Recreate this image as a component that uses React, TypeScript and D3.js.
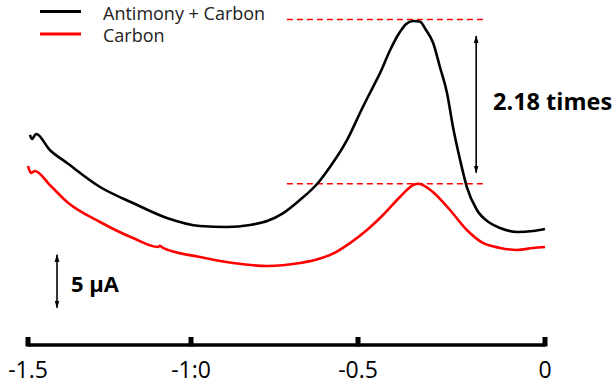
import React from "react";
import * as d3 from "d3";

const W = 614;
const H = 387;

// Potential (V) tick values and labels (as printed)
const tickValues = [-1.5, -1.0, -0.5, 0];
const tickLabels = ["-1.5", "-1:0", "-0.5", "0"];

// Antimony + Carbon (potential V, current µA, relative)
const blackX = [-1.494, -1.488, -1.475, -1.433, -1.38, -1.279, -1.178, -1.074, -0.973, -0.892, -0.823, -0.77, -0.725, -0.674, -0.62, -0.584, -0.533, -0.487, -0.46, -0.441, -0.414, -0.388, -0.372, -0.353, -0.335, -0.318, -0.299, -0.281, -0.262, -0.246, -0.227, -0.209, -0.182, -0.147, -0.12, -0.075, -0.032, 0];
const blackY = [18.4, 18.02, 18.49, 16.98, 15.75, 13.49, 11.98, 10.57, 9.81, 9.72, 9.91, 10.3, 11.0, 12.26, 13.87, 15.38, 17.92, 21.04, 22.92, 24.25, 26.42, 28.11, 28.85, 29.15, 29.1, 28.3, 27.08, 24.81, 22.36, 19.15, 16.04, 13.49, 11.32, 10.09, 9.62, 9.25, 9.34, 9.53];

// Carbon
const redX = [-1.5, -1.491, -1.479, -1.433, -1.38, -1.279, -1.178, -1.101, -1.095, -1.086, -0.973, -0.874, -0.772, -0.674, -0.629, -0.575, -0.524, -0.476, -0.433, -0.388, -0.365, -0.35, -0.338, -0.325, -0.299, -0.254, -0.209, -0.166, -0.12, -0.075, -0.032, 0];
const redY = [15.47, 14.81, 15.0, 13.68, 12.08, 10.19, 8.68, 7.83, 7.95, 7.74, 6.89, 6.32, 6.04, 6.32, 6.6, 7.2, 8.2, 9.43, 10.85, 12.55, 13.35, 13.72, 13.8, 13.65, 13.0, 11.32, 9.43, 8.21, 7.74, 7.55, 7.74, 7.83];

const seriesNames = ["Antimony + Carbon", "Carbon"];
const seriesColors = ["#000000", "#ff0000"];
const ratioLabel = "2.18 times";
const scaleBarValue = 5;
const scaleBarLabel = "5 µA";

const FONT = "'Open Sans', 'Noto Sans', sans-serif";

export default function App() {
  const x = d3.scaleLinear().domain([-1.5, -1.0, -0.5, 0]).range([28, 191, 358, 545]);
  const y = d3.scaleLinear().domain([0, 30]).range([330, 12]);

  const line = d3
    .line<[number, number]>()
    .x((d) => x(d[0]))
    .y((d) => y(d[1]))
    .curve(d3.curveMonotoneX);

  const black = blackX.map((v, i) => [v, blackY[i]] as [number, number]);
  const red = redX.map((v, i) => [v, redY[i]] as [number, number]);

  // peak currents (within the stripping peak region)
  const blackMax = d3.max(black.filter((d) => d[0] > -0.8), (d) => d[1]) as number;
  const redMax = d3.max(red.filter((d) => d[0] > -0.8), (d) => d[1]) as number;
  const dashX0 = x(-0.713);
  const dashX1 = x(-0.16);

  const arrowX = x(-0.184);
  const arrowTop = y(blackMax) + 15;
  const arrowBot = y(redMax) - 11;

  const sbX = x(-1.411);
  const sbBottom = y(2.1);
  const sbTop = y(2.1 + scaleBarValue);

  const axisY = 345;

  return (
    <svg
      width={W}
      height={H}
      style={{ position: "absolute", left: 0, top: 0, background: "#fff" }}
      fontFamily={FONT}
    >
      <defs>
        <marker id="ah" viewBox="0 0 10 10" refX="9" refY="5" markerWidth="8" markerHeight="6" orient="auto-start-reverse" markerUnits="userSpaceOnUse" preserveAspectRatio="none">
          <path d="M0,1 L10,5 L0,9 Z" fill="#000" />
        </marker>
      </defs>
      <rect width={W} height={H} fill="#fff" />

      {/* dashed peak lines */}
      <line x1={dashX0} x2={dashX1} y1={y(blackMax) - 1.5} y2={y(blackMax) - 1.5} stroke="#ff0000" strokeWidth={1.6} strokeDasharray="6,4" />
      <line x1={dashX0} x2={dashX1} y1={y(redMax)} y2={y(redMax)} stroke="#ff0000" strokeWidth={1.6} strokeDasharray="6,4" />

      {/* curves */}
      <path d={line(red) || ""} fill="none" stroke={seriesColors[1]} strokeWidth={2.6} strokeLinejoin="round" />
      <path d={line(black) || ""} fill="none" stroke={seriesColors[0]} strokeWidth={2.6} strokeLinejoin="round" />

      {/* ratio arrow */}
      <line x1={arrowX} x2={arrowX} y1={arrowTop} y2={arrowBot} stroke="#000" strokeWidth={1.6} markerStart="url(#ah)" markerEnd="url(#ah)" />
      <text x={493} y={110} fontSize={23.5} fontWeight="bold" fill="#000">{ratioLabel}</text>

      {/* scale bar */}
      <line x1={sbX} x2={sbX} y1={sbTop} y2={sbBottom} stroke="#000" strokeWidth={1.6} markerStart="url(#ah)" markerEnd="url(#ah)" />
      <text x={71} y={292} fontSize={22} fontWeight="bold" fill="#000">{scaleBarLabel}</text>

      {/* legend */}
      {seriesNames.map((n, i) => (
        <g key={n}>
          <line x1={40} x2={81} y1={11.5 + i * 22.5} y2={11.5 + i * 22.5} stroke={seriesColors[i]} strokeWidth={3} />
          <text x={103} y={20 + i * 22} fontSize={18} fill="#222">{n}</text>
        </g>
      ))}

      {/* x axis */}
      <line x1={x(-1.5)} x2={x(0)} y1={axisY} y2={axisY} stroke="#000" strokeWidth={3.5} />
      {tickValues.map((t, i) => (
        <g key={t}>
          <rect x={x(t) - 2.5} y={axisY - 8} width={5} height={9.5} fill="#000" />
          <text x={x(t)} y={378} fontSize={23} textAnchor="middle" fill="#000">{tickLabels[i]}</text>
        </g>
      ))}
    </svg>
  );
}
